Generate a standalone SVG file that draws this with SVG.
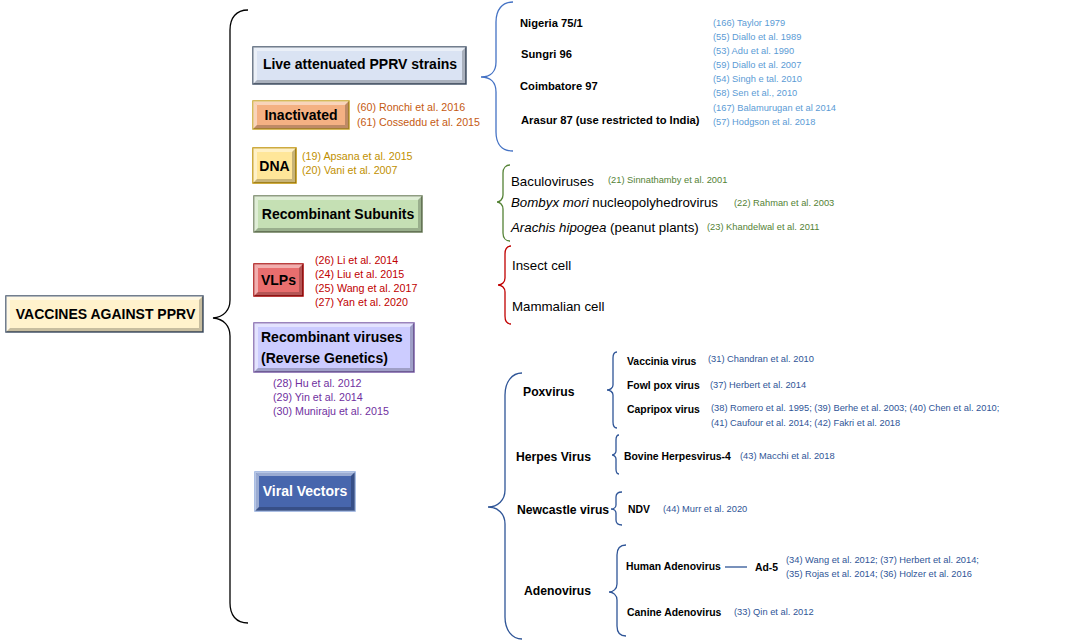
<svg xmlns="http://www.w3.org/2000/svg" width="1084" height="642" viewBox="0 0 1084 642">
<style>
text{font-family:"Liberation Sans",Arial,sans-serif}
.bt{font-weight:bold;font-size:14px;fill:#000}
.hl{fill:#fff;fill-opacity:.45}
.sh{fill:#000;fill-opacity:.22}
.rl{font-size:10.7px}
.rr{font-size:9.3px}
.st{font-weight:bold;font-size:11.2px;fill:#000}
.md{font-size:13.3px;fill:#000}
.vb{font-weight:bold;font-size:12.2px;fill:#000}
.vs{font-weight:bold;font-size:10.4px;fill:#000}
.br{fill:none;stroke-width:1.3}
</style>
<rect width="1084" height="642" fill="#fff"/>

<g id="connectors">
<path class="br" stroke="#000" stroke-width="1.5" d="M248,10 C236,10 230,18 230,30 L230,300 C230,310 224,317 213,318 C224,319 230,326 230,336 L230,603 C230,615 236,623 248,623"/>
<path class="br" stroke="#4472c4" d="M513,2 C502,2 496,10 496,22 L496,62 C496,72 490,77 481,77 C490,77 496,82 496,92 L496,132 C496,144 502,151 513,151"/>
<path class="br" stroke="#548235" d="M510,165 C506,165 503,168 503,173 L503,195 C503,199 500,202 497,202 C500,202 503,205 503,209 L503,233 C503,238 506,241 510,241"/>
<path class="br" stroke="#c00000" d="M511,246 C507,246 505,249 505,254 L505,278 C505,282 502,285 498,285 C502,285 505,288 505,292 L505,316 C505,321 507,324 511,324"/>
<path class="br" stroke="#2f5597" d="M522,373 C512,373 505,382 505,395 L505,490 C505,500 498,507 488,507 C498,507 505,514 505,524 L505,617 C505,630 512,639 522,639"/>
<path class="br" stroke="#2f5597" d="M617,352 C614,352 613,354 613,358 L613,385 C613,388 610,390 607,390 C610,390 613,392 613,395 L613,422 C613,426 614,428 617,428"/>
<path class="br" stroke="#2f5597" d="M619,435 C617,435 616,437 616,440 L616,451 C616,453 614,455 612,455 C614,455 616,457 616,459 L616,469 C616,472 617,474 619,474"/>
<path class="br" stroke="#2f5597" d="M622,492 C618,492 616,494 616,497 L616,505 C616,507 614,509 611,509 C614,509 616,511 616,513 L616,520 C616,523 618,525 622,525"/>
<path class="br" stroke="#2f5597" d="M626,545 C620,545 617,549 617,555 L617,584 C617,589 613,592 609,592 C613,592 617,595 617,600 L617,626 C617,632 620,636 626,636"/>
<line x1="725" y1="567" x2="747" y2="567" stroke="#2f5597" stroke-width="1.3"/>
</g>

<g id="root">
<rect x="6" y="296" width="197" height="36" fill="#fff2cc" stroke="#44546a" stroke-width="1.5"/>
<polygon class="hl" points="6,296 203,296 199,300 10,300"/><polygon class="hl" points="6,296 10,300 10,328 6,332"/>
<polygon class="sh" points="6,332 10,328 199,328 203,332"/><polygon class="sh" points="203,296 203,332 199,328 199,300"/>
<text class="bt" x="105.5" y="319" text-anchor="middle" font-size="13.4">VACCINES AGAINST PPRV</text>
</g>

<g id="live">
<rect x="253" y="47" width="213" height="37" fill="#dae3f3" stroke="#44546a" stroke-width="1.5"/>
<polygon class="hl" points="253,47 466,47 462,51 257,51"/><polygon class="hl" points="253,47 257,51 257,80 253,84"/>
<polygon class="sh" points="253,84 257,80 462,80 466,84"/><polygon class="sh" points="466,47 466,84 462,80 462,51"/>
<text class="bt" x="360" y="69" text-anchor="middle">Live attenuated PPRV strains</text>
</g>

<g id="inactivated">
<rect x="253" y="101" width="96" height="28" fill="#f4b183" stroke="#c9a227" stroke-width="1.5"/>
<polygon class="hl" points="253,101 349,101 345,105 257,105"/><polygon class="hl" points="253,101 257,105 257,125 253,129"/>
<polygon class="sh" points="253,129 257,125 345,125 349,129"/><polygon class="sh" points="349,101 349,129 345,125 345,105"/>
<text class="bt" x="301" y="120" text-anchor="middle">Inactivated</text>
<text class="rl" fill="#c55a11" x="357" y="111">(60) Ronchi et al. 2016</text>
<text class="rl" fill="#c55a11" x="357" y="125.5">(61) Cosseddu et al. 2015</text>
</g>

<g id="dna">
<rect x="253" y="148" width="43" height="35" fill="#ffe699" stroke="#bf9000" stroke-width="1.5"/>
<polygon class="hl" points="253,148 296,148 292,152 257,152"/><polygon class="hl" points="253,148 257,152 257,179 253,183"/>
<polygon class="sh" points="253,183 257,179 292,179 296,183"/><polygon class="sh" points="296,148 296,183 292,179 292,152"/>
<text class="bt" x="274.5" y="170.5" text-anchor="middle">DNA</text>
<text class="rl" fill="#bf9000" x="302" y="159.5">(19) Apsana et al. 2015</text>
<text class="rl" fill="#bf9000" x="302" y="174">(20) Vani et al. 2007</text>
</g>

<g id="subunits">
<rect x="254" y="196" width="168" height="36" fill="#c5e0b4" stroke="#6b7d5a" stroke-width="1.5"/>
<polygon class="hl" points="254,196 422,196 418,200 258,200"/><polygon class="hl" points="254,196 258,200 258,228 254,232"/>
<polygon class="sh" points="254,232 258,228 418,228 422,232"/><polygon class="sh" points="422,196 422,232 418,228 418,200"/>
<text class="bt" x="338" y="219" text-anchor="middle">Recombinant Subunits</text>
</g>

<g id="vlps">
<rect x="254" y="264" width="49" height="32" fill="#e86e6e" stroke="#a50000" stroke-width="1.5"/>
<polygon class="hl" points="254,264 303,264 299,268 258,268"/><polygon class="hl" points="254,264 258,268 258,292 254,296"/>
<polygon class="sh" points="254,296 258,292 299,292 303,296"/><polygon class="sh" points="303,264 303,296 299,292 299,268"/>
<text class="bt" x="278.5" y="285" text-anchor="middle">VLPs</text>
<text class="rl" fill="#c00000" x="315" y="264">(26) Li et al. 2014</text>
<text class="rl" fill="#c00000" x="315" y="278">(24) Liu et al. 2015</text>
<text class="rl" fill="#c00000" x="315" y="292">(25) Wang et al. 2017</text>
<text class="rl" fill="#c00000" x="315" y="306">(27) Yan et al. 2020</text>
</g>

<g id="recviruses">
<rect x="254" y="323" width="160" height="49" fill="#ccccff" stroke="#7a5ca8" stroke-width="1.5"/>
<polygon class="hl" points="254,323 414,323 410,327 258,327"/><polygon class="hl" points="254,323 258,327 258,368 254,372"/>
<polygon class="sh" points="254,372 258,368 410,368 414,372"/><polygon class="sh" points="414,323 414,372 410,368 410,327"/>
<text class="bt" x="261" y="342">Recombinant viruses</text>
<text class="bt" x="261" y="363">(Reverse Genetics)</text>
<text class="rl" fill="#7030a0" x="273" y="386.5">(28) Hu et al. 2012</text>
<text class="rl" fill="#7030a0" x="273" y="400.5">(29) Yin et al. 2014</text>
<text class="rl" fill="#7030a0" x="273" y="414.5">(30) Muniraju et al. 2015</text>
</g>

<g id="viralvectors">
<rect x="255" y="472" width="100" height="39" fill="#4766ad" stroke="#8ea9db" stroke-width="1.5"/>
<polygon class="hl" points="255,472 355,472 351,476 259,476" fill-opacity=".25"/><polygon class="hl" points="255,472 259,476 259,507 255,511" fill-opacity=".25"/>
<polygon class="sh" points="255,511 259,507 351,507 355,511"/><polygon class="sh" points="355,472 355,511 351,507 351,476"/>
<text class="bt" x="305" y="496" text-anchor="middle" fill="#fff" style="fill:#fff">Viral Vectors</text>
</g>

<g id="strains">
<text class="st" x="520" y="27">Nigeria 75/1</text>
<text class="st" x="521" y="58">Sungri 96</text>
<text class="st" x="520" y="90">Coimbatore 97</text>
<text class="st" x="521" y="124">Arasur 87 (use restricted to India)</text>
<g fill="#5b9bd5">
<text class="rr" x="713" y="25.7">(166) Taylor 1979</text>
<text class="rr" x="713" y="39.7">(55) Diallo et al. 1989</text>
<text class="rr" x="713" y="53.8">(53) Adu et al. 1990</text>
<text class="rr" x="713" y="67.9">(59) Diallo et al. 2007</text>
<text class="rr" x="713" y="82.2">(54) Singh e tal. 2010</text>
<text class="rr" x="713" y="96.3">(58) Sen et al., 2010</text>
<text class="rr" x="713" y="110.5">(167) Balamurugan et al 2014</text>
<text class="rr" x="713" y="124.6">(57) Hodgson et al. 2018</text>
</g>
</g>

<g id="subunit-systems">
<text class="md" x="511" y="186">Baculoviruses</text>
<text class="md" x="511" y="207"><tspan font-style="italic">Bombyx mori</tspan> nucleopolyhedrovirus</text>
<text class="md" x="511" y="232"><tspan font-style="italic">Arachis hipogea</tspan> (peanut plants)</text>
<text class="rr" fill="#548235" x="608" y="182.7">(21) Sinnathamby et al. 2001</text>
<text class="rr" fill="#548235" x="734" y="205.7">(22) Rahman et al. 2003</text>
<text class="rr" fill="#548235" x="707" y="230">(23) Khandelwal et al. 2011</text>
</g>

<g id="vlp-systems">
<text class="md" x="512" y="270">Insect cell</text>
<text class="md" x="512" y="310.5">Mammalian cell</text>
</g>

<g id="poxvirus">
<text class="vb" x="523" y="396">Poxvirus</text>
<text class="vs" x="627" y="364.5">Vaccinia virus</text>
<text class="vs" x="627" y="388.7">Fowl pox virus</text>
<text class="vs" x="627" y="412.7">Capripox virus</text>
<g fill="#2f5597">
<text class="rr" x="708" y="361.7">(31) Chandran et al. 2010</text>
<text class="rr" x="710" y="387.7">(37) Herbert et al. 2014</text>
<text class="rr" x="711" y="411">(38) Romero et al. 1995; (39) Berhe et al. 2003; (40) Chen et al. 2010;</text>
<text class="rr" x="711" y="425.7">(41) Caufour et al. 2014; (42) Fakri et al. 2018</text>
</g>
</g>

<g id="herpes">
<text class="vb" x="516" y="461">Herpes Virus</text>
<text class="vs" x="624" y="459.5" font-size="9.8">Bovine Herpesvirus-4</text>
<text class="rr" fill="#2f5597" x="740" y="459">(43) Macchi et al. 2018</text>
</g>

<g id="newcastle">
<text class="vb" x="517" y="513.7">Newcastle virus</text>
<text class="vs" x="628" y="512.7">NDV</text>
<text class="rr" fill="#2f5597" x="663" y="511.7">(44) Murr et al. 2020</text>
</g>

<g id="adenovirus">
<text class="vb" x="524" y="595">Adenovirus</text>
<text class="vs" x="626" y="570.4">Human Adenovirus</text>
<text class="vs" x="755" y="571" font-size="11.2">Ad-5</text>
<text class="rr" fill="#2f5597" x="786" y="562.7">(34) Wang et al. 2012; (37) Herbert et al. 2014;</text>
<text class="rr" fill="#2f5597" x="786" y="577.4">(35) Rojas et al. 2014; (36) Holzer et al. 2016</text>
<text class="vs" x="627" y="616">Canine Adenovirus</text>
<text class="rr" fill="#2f5597" x="734" y="615">(33) Qin et al. 2012</text>
</g>
</svg>
